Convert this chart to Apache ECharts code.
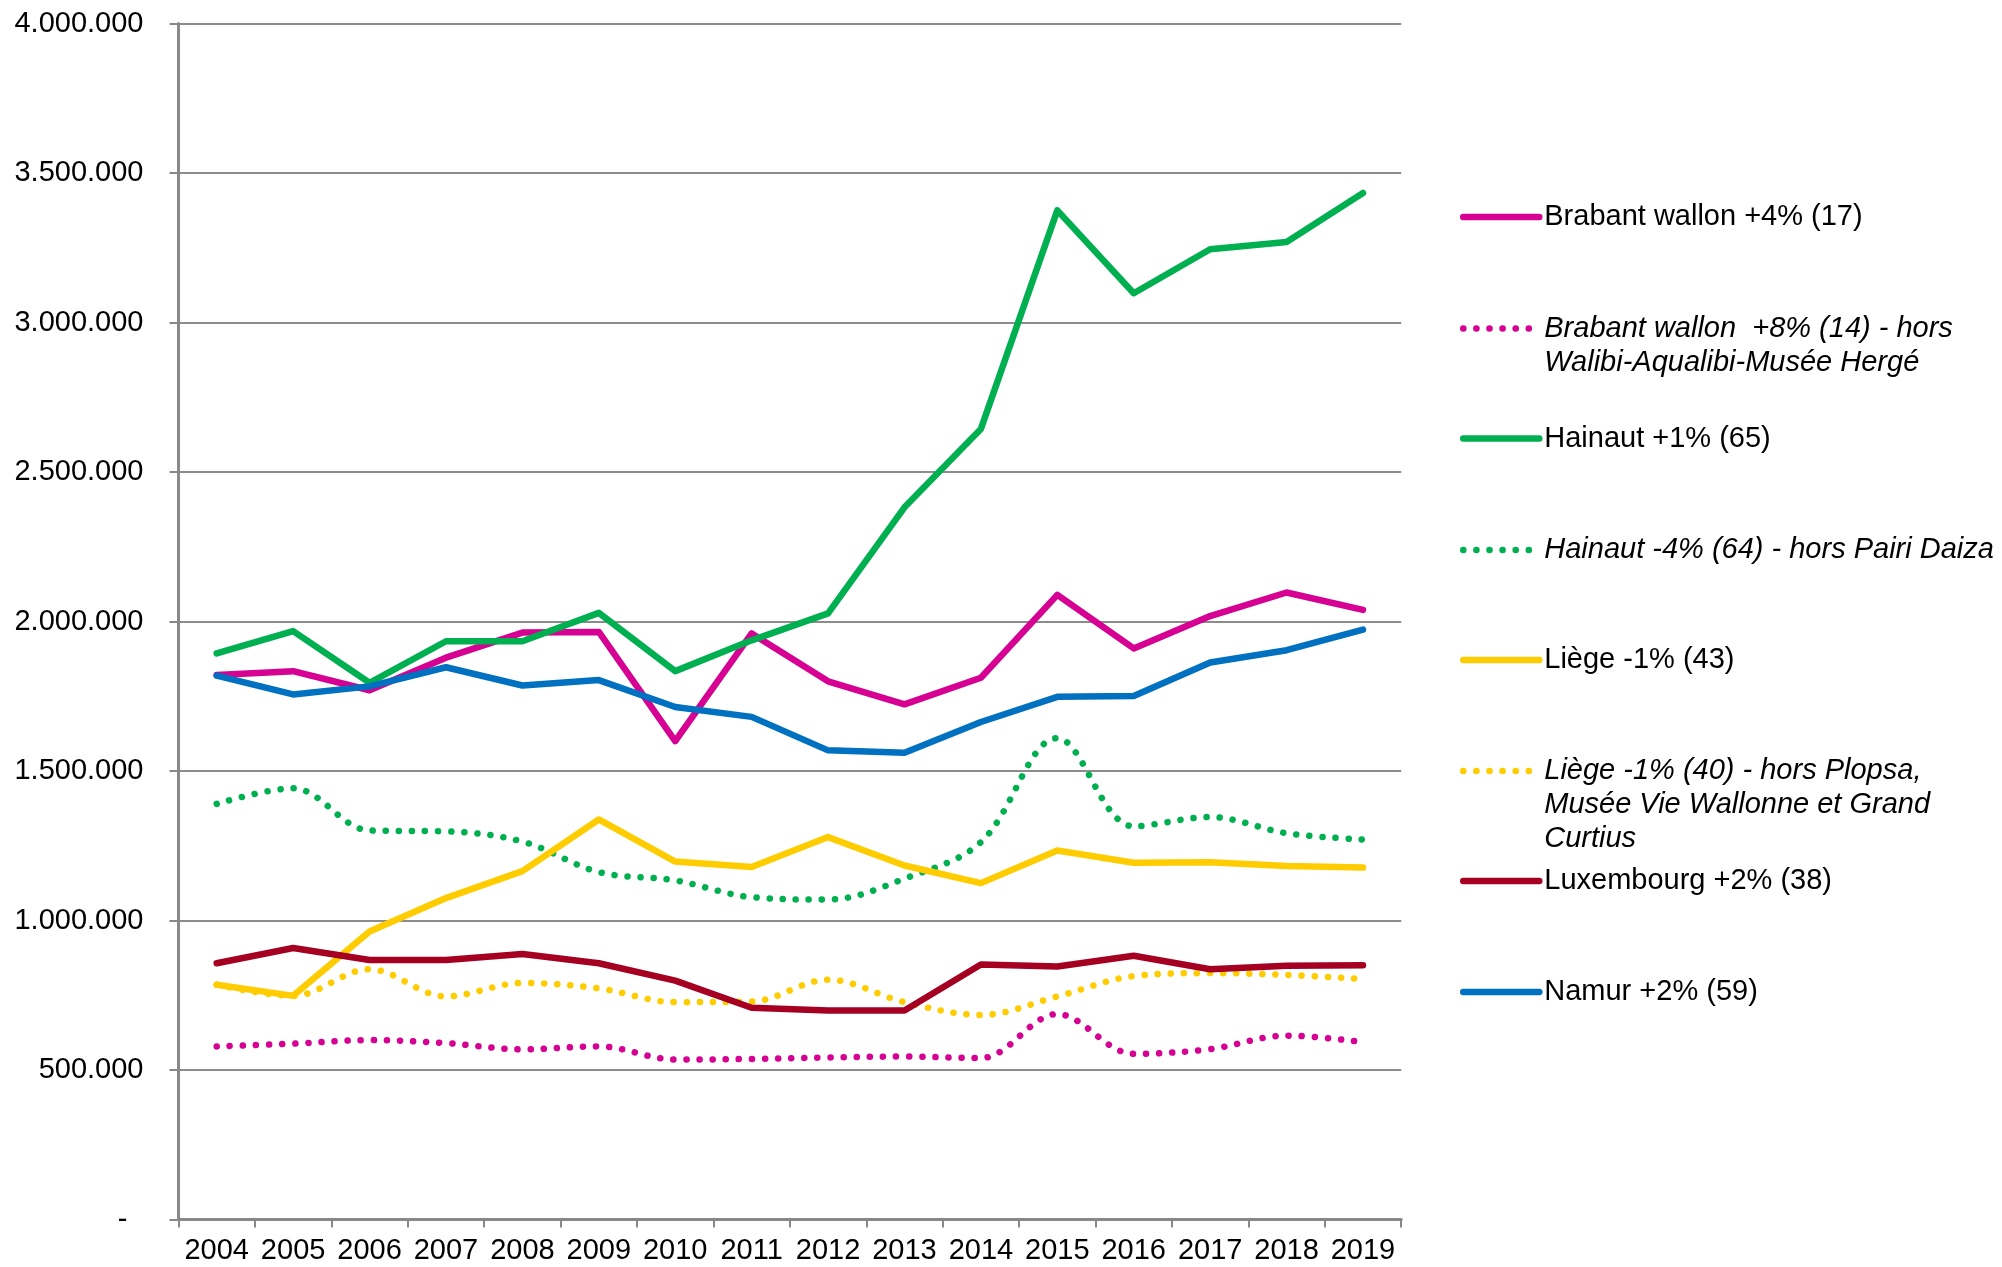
<!DOCTYPE html>
<html>
<head>
<meta charset="utf-8">
<script src="https://cdn.jsdelivr.net/npm/echarts@6/dist/echarts.min.js"></script>
<style>
html,body{margin:0;padding:0;background:#fff;}
#chart{width:2002px;height:1267px;}
</style>
</head>
<body>
<div id="chart"></div>
<script>
const years = ['2004','2005','2006','2007','2008','2009','2010','2011','2012','2013','2014','2015','2016','2017','2018','2019'];
const yTicks = [0, 500000, 1000000, 1500000, 2000000, 2500000, 3000000, 3500000, 4000000];

const brabantWallon = [1821000,1834000,1770000,1879000,1963000,1965000,1600000,1960000,1800000,1723000,1812000,2089000,1910000,2018000,2097000,2039000];
const brabantWallonHors = [579000,588000,600000,590000,569000,579000,535000,537000,542000,545000,540000,687000,554000,570000,615000,593000];
const hainaut = [1893000,1968000,1795000,1934000,1934000,2029000,1834000,1937000,2027000,2382000,2644000,3375000,3098000,3245000,3269000,3433000];
const hainautHors = [1390000,1442000,1301000,1298000,1264000,1162000,1134000,1078000,1070000,1140000,1262000,1610000,1315000,1346000,1292000,1271000];
const liege = [785000,748000,963000,1075000,1165000,1338000,1197000,1179000,1279000,1184000,1125000,1234000,1193000,1195000,1182000,1177000];
const liegeHors = [785000,748000,837000,746000,791000,773000,727000,729000,802000,727000,684000,746000,814000,824000,818000,804000];
const luxembourg = [857000,908000,868000,868000,888000,857000,799000,708000,699000,699000,853000,846000,882000,837000,849000,850000];
const namur = [1819000,1756000,1783000,1847000,1786000,1804000,1714000,1681000,1569000,1561000,1664000,1748000,1751000,1863000,1904000,1973000];

const seriesNames = [
  'Brabant wallon +4% (17)',
  'Brabant wallon  +8% (14) - hors\nWalibi-Aqualibi-Musée Hergé',
  'Hainaut +1% (65)',
  'Hainaut -4% (64) - hors Pairi Daiza',
  'Liège -1% (43)',
  'Liège -1% (40) - hors Plopsa,\nMusée Vie Wallonne et Grand\nCurtius',
  'Luxembourg +2% (38)',
  'Namur +2% (59)'
];
const seriesData = [brabantWallon, brabantWallonHors, hainaut, hainautHors, liege, liegeHors, luxembourg, namur];
const seriesColors = ['#D60093','#D60093','#00B050','#00B050','#FFCC00','#FFCC00','#A50021','#0070C0'];
const seriesDotted = [false, true, false, true, false, true, false, false];

const FONT = '"Liberation Sans", Arial, sans-serif';
const FS = 29;
const LH = 34;
const legendCenters = [217, 328.5, 438.5, 550, 660, 771, 881, 992];

function fmt(v){
  if (v === 0) return '-  ';
  return String(Math.round(v)).replace(/\B(?=(\d{3})+(?!\d))/g, '.');
}

const series = seriesNames.map((name, i) => ({
  name: name,
  type: 'line',
  data: seriesData[i],
  symbol: 'none',
  showSymbol: false,
  smooth: seriesDotted[i] ? 0.35 : false,
  lineStyle: seriesDotted[i]
    ? { color: seriesColors[i], width: 6.5, type: [0.1, 13], cap: 'round', join: 'round' }
    : { color: seriesColors[i], width: 6.5, type: 'solid', cap: 'round', join: 'round' },
  itemStyle: { color: seriesColors[i] },
  emphasis: { disabled: true },
  animation: false
}));

const legends = seriesNames.map((name, i) => {
  const nLines = name.split('\n').length;
  return {
    data: [name],
    left: 1460,
    top: legendCenters[i] - (2 * nLines - 1) * LH / 2,
    padding: 0,
    itemWidth: 76,
    itemHeight: 14,
    itemGap: 0,
    selectedMode: false,
    orient: 'horizontal',
    formatter: function (n) { return '\n'.repeat(nLines - 1) + n; },
    lineStyle: { width: 6.5 },
    itemStyle: { opacity: 0 },
    textStyle: {
      fontFamily: FONT,
      fontSize: FS,
      lineHeight: LH,
      color: '#000',
      fontStyle: seriesDotted[i] ? 'italic' : 'normal'
    }
  };
});

const chart = echarts.init(document.getElementById('chart'), null, { renderer: 'canvas' });
chart.setOption({
  backgroundColor: '#fff',
  animation: false,
  grid: { left: 178.5, right: 600.8, top: 23.5, bottom: 47.5, containLabel: false },
  legend: legends,
  xAxis: {
    type: 'category',
    data: years,
    boundaryGap: true,
    axisLine: { show: true, lineStyle: { color: '#888888', width: 3 } },
    axisTick: { show: true, interval: 0, length: 8, alignWithLabel: false, lineStyle: { color: '#888888', width: 2 } },
    axisLabel: { interval: 0, fontFamily: FONT, fontSize: FS, color: '#000', margin: 17 },
    splitLine: { show: false }
  },
  yAxis: {
    type: 'value',
    min: yTicks[0],
    max: yTicks[yTicks.length - 1],
    interval: yTicks[1] - yTicks[0],
    axisLine: { show: true, lineStyle: { color: '#888888', width: 3 } },
    axisTick: { show: true, length: 9, lineStyle: { color: '#888888', width: 2 } },
    axisLabel: { fontFamily: FONT, fontSize: FS, color: '#000', margin: 35, formatter: fmt },
    splitLine: { show: true, lineStyle: { color: '#8C8C8C', width: 2 } }
  },
  series: series
});
</script>
</body>
</html>
